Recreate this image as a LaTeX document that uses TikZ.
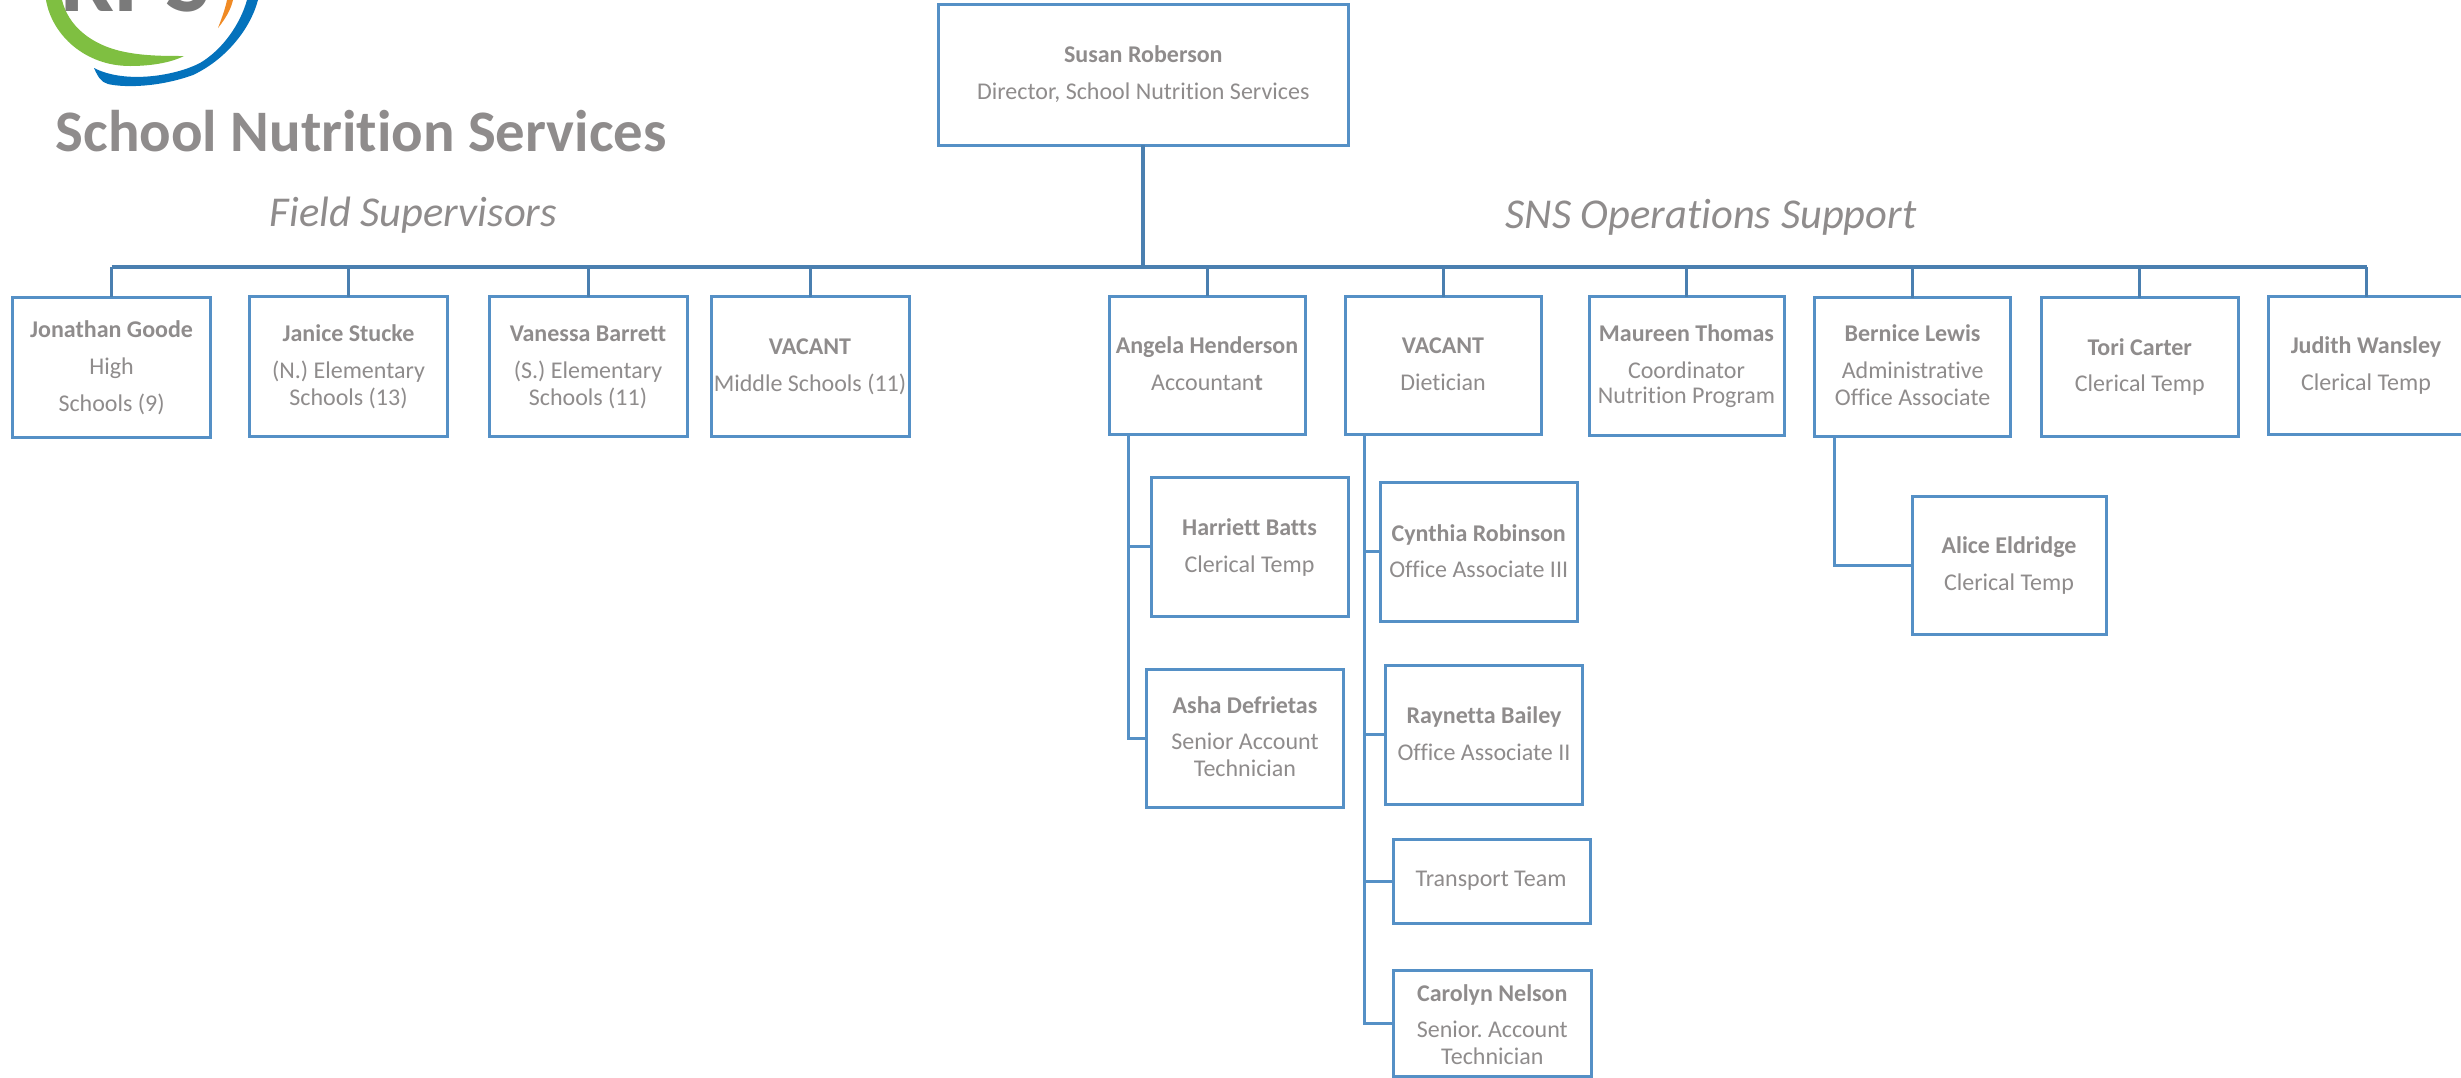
\documentclass[tikz,border=0pt]{standalone}
\usepackage{fontspec}
\setmainfont{Carlito}[Ligatures={NoRequired,NoCommon,NoContextual}]
\definecolor{boxblue}{HTML}{5590C6}
\definecolor{busblue}{HTML}{4A7FB0}
\definecolor{txtgray}{HTML}{8F8C8C}
\definecolor{logogreen}{HTML}{7FBF41}
\definecolor{logoblue}{HTML}{0472BC}
\definecolor{logoorange}{HTML}{F08A24}
\definecolor{logogray}{HTML}{7A7A7A}
\newcommand{\orgbox}[5]{%
  \pgfmathsetmacro{\bw}{#4-#2}\pgfmathsetmacro{\bh}{#5-#3}%
  \pgfmathsetmacro{\bx}{(#2+#4)/2}\pgfmathsetmacro{\by}{(#3+#5)/2}%
  \node[orgnode,minimum width=\bw pt,minimum height=\bh pt] (#1) at (\bx,\by) {};}
\tikzset{
  orgnode/.style={draw=boxblue,line width=3pt,fill=white,inner sep=0pt,outer sep=0pt,rectangle},
  nm/.style={anchor=base,inner sep=0pt,yshift=-1.2pt,text=txtgray,font=\fontsize{24}{28}\selectfont\bfseries},
  rl/.style={anchor=base,inner sep=0pt,yshift=-0.5pt,text=txtgray,font=\fontsize{24}{28}\selectfont},
  head/.style={anchor=base,inner sep=0pt,text=txtgray,font=\fontsize{42.5}{48}\selectfont\itshape},
  busline/.style={draw=busblue,line width=4pt},
  dropline/.style={draw=busblue,line width=3pt},
  kidline/.style={draw=boxblue,line width=3pt},
}
\begin{document}
\begin{tikzpicture}[x=1pt,y=-1pt]
\useasboundingbox (0,0) rectangle (2461,1077);
\clip (0,0) rectangle (2461,1077);
\fill[white] (0,0) rectangle (2461,1077);

% logo
\fill[logogreen] (46,0) .. controls (52,35) and (85,66) .. (130,66)
  .. controls (150,66) and (170,63) .. (184,56)
  .. controls (165,56) and (145,56) .. (125,52)
  .. controls (90,45) and (68,25) .. (62,0) -- cycle;
\fill[logoblue] (94,68) .. controls (98,77) and (101,82) .. (108,84)
  .. controls (125,88) and (160,87) .. (193,75)
  .. controls (225,60) and (250,30) .. (258,0) -- (247,0)
  .. controls (240,25) and (222,50) .. (200,63)
  .. controls (175,76) and (125,84) .. (94,68) -- cycle;
\fill[logoorange] (227,0) .. controls (225,10) and (221,20) .. (218,28)
  .. controls (226,18) and (231,9) .. (233,0) -- cycle;
\node[anchor=base west,inner sep=0pt,text=logogray,font=\fontsize{96}{100}\selectfont\bfseries] (rps) at (60,11) {RPS};

% headings
\node[anchor=base west,inner sep=0pt,text=txtgray,font=\fontsize{58.8}{66}\selectfont\bfseries] (title) at (55.5,151.5) {School Nutrition Services};
\node[head] (hfs) at (413.5,226) {Field Supervisors};
\node[head] (hsns) at (1711,228) {SNS Operations Support};

% boxes
\orgbox{sus}{938.6}{4.3}{1348}{145}
\orgbox{jon}{12.7}{297.3}{210.5}{437}
\orgbox{jan}{249.4}{296.7}{447.7}{436.7}
\orgbox{van}{489}{296.7}{687.5}{436.7}
\orgbox{vms}{711}{296.5}{909.4}{436.5}
\orgbox{ang}{1109}{296}{1305}{434}
\orgbox{vdi}{1345}{296.5}{1541}{434.5}
\orgbox{mau}{1589}{296.7}{1784}{435.7}
\orgbox{ber}{1814.6}{297.7}{2010.6}{436}
\orgbox{tor}{2041.6}{297.5}{2238}{436}
\orgbox{jud}{2268.6}{296.7}{2465}{434}
\orgbox{har}{1151}{477.7}{1348}{616}
\orgbox{ash}{1146.4}{669}{1343.6}{807}
\orgbox{cyn}{1380}{482.7}{1577.5}{621}
\orgbox{ray}{1385}{665.7}{1582.5}{804}
\orgbox{tra}{1393}{839}{1590}{923}
\orgbox{car}{1393.6}{970}{1591}{1076}
\orgbox{ali}{1912}{496.7}{2106}{634.7}

% connectors
\coordinate (busstem) at (sus.south |- 0,267);
\draw[busline] (sus.south) -- (busstem);
\draw[busline] (jon.north |- busstem) -- (jud.north |- busstem);
\foreach \n in {jon,jan,van,vms,ang,vdi,mau,ber,tor,jud}
  \draw[dropline] (\n.north |- busstem) -- (\n.north);
\coordinate (angtrunk) at (1128.6,434);
\coordinate (vditrunk) at (1364.6,434.5);
\coordinate (bertrunk) at (1834,436);
\foreach \n in {har,ash} \draw[kidline] (angtrunk) |- (\n.west);
\foreach \n in {cyn,ray,tra,car} \draw[kidline] (vditrunk) |- (\n.west);
\draw[kidline] (bertrunk) |- (ali.west);

% texts
\node[nm] (sus1) at (1143.3,61.7) {Susan Roberson};
\node[rl] (sus2) at (1143.3,99) {Director, School Nutrition Services};
\node[nm] (jon1) at (111.6,336.7) {Jonathan Goode};
\node[rl] (jon2) at (111.6,374) {High};
\node[rl] (jon3) at (111.6,410.7) {Schools (9)};
\node[nm] (jan1) at (348.5,340.7) {Janice Stucke};
\node[rl] (jan2) at (348.5,378) {(N.) Elementary};
\node[rl] (jan3) at (348.5,405) {Schools (13)};
\node[nm] (van1) at (588,340.7) {Vanessa Barrett};
\node[rl] (van2) at (588,378) {(S.) Elementary};
\node[rl] (van3) at (588,405) {Schools (11)};
\node[nm] (vms1) at (810,353.3) {VACANT};
\node[rl] (vms2) at (810,390.7) {Middle Schools (11)};
\node[nm] (ang1) at (1207,352.7) {Angela Henderson};
\node[rl] (ang2) at (1207,390) {Accountan\textbf{t}};
\node[nm] (vdi1) at (1443,352.7) {VACANT};
\node[rl] (vdi2) at (1443,390) {Dietician};
\node[nm] (mau1) at (1686.5,340) {Maureen Thomas};
\node[rl] (mau2) at (1686.5,377.7) {Coordinator};
\node[rl] (mau3) at (1686.5,403) {Nutrition Program};
\node[nm] (ber1) at (1912.6,340.7) {Bernice Lewis};
\node[rl] (ber2) at (1912.6,377.7) {Administrative};
\node[rl] (ber3) at (1912.6,405) {Office Associate};
\node[nm] (tor1) at (2139.8,354) {Tori Carter};
\node[rl] (tor2) at (2139.8,390.7) {Clerical Temp};
\node[nm] (jud1) at (2366,352.7) {Judith Wansley};
\node[rl] (jud2) at (2366,390) {Clerical Temp};
\node[nm] (har1) at (1249.5,534) {Harriett Batts};
\node[rl] (har2) at (1249.5,572) {Clerical Temp};
\node[nm] (ash1) at (1245,712) {Asha Defrietas};
\node[rl] (ash2) at (1245,749) {Senior Account};
\node[rl] (ash3) at (1245,776) {Technician};
\node[nm] (cyn1) at (1478.7,540) {Cynthia Robinson};
\node[rl] (cyn2) at (1478.7,577) {Office Associate III};
\node[nm] (ray1) at (1484,722.7) {Raynetta Bailey};
\node[rl] (ray2) at (1484,760) {Office Associate II};
\node[rl] (tra1) at (1491,886) {Transport Team};
\node[nm] (car1) at (1492.3,1000) {Carolyn Nelson};
\node[rl] (car2) at (1492.3,1037) {Senior.\ Account};
\node[rl] (car3) at (1492.3,1063.7) {Technician};
\node[nm] (ali1) at (2009,552.7) {Alice Eldridge};
\node[rl] (ali2) at (2009,590) {Clerical Temp};
\end{tikzpicture}
\end{document}
